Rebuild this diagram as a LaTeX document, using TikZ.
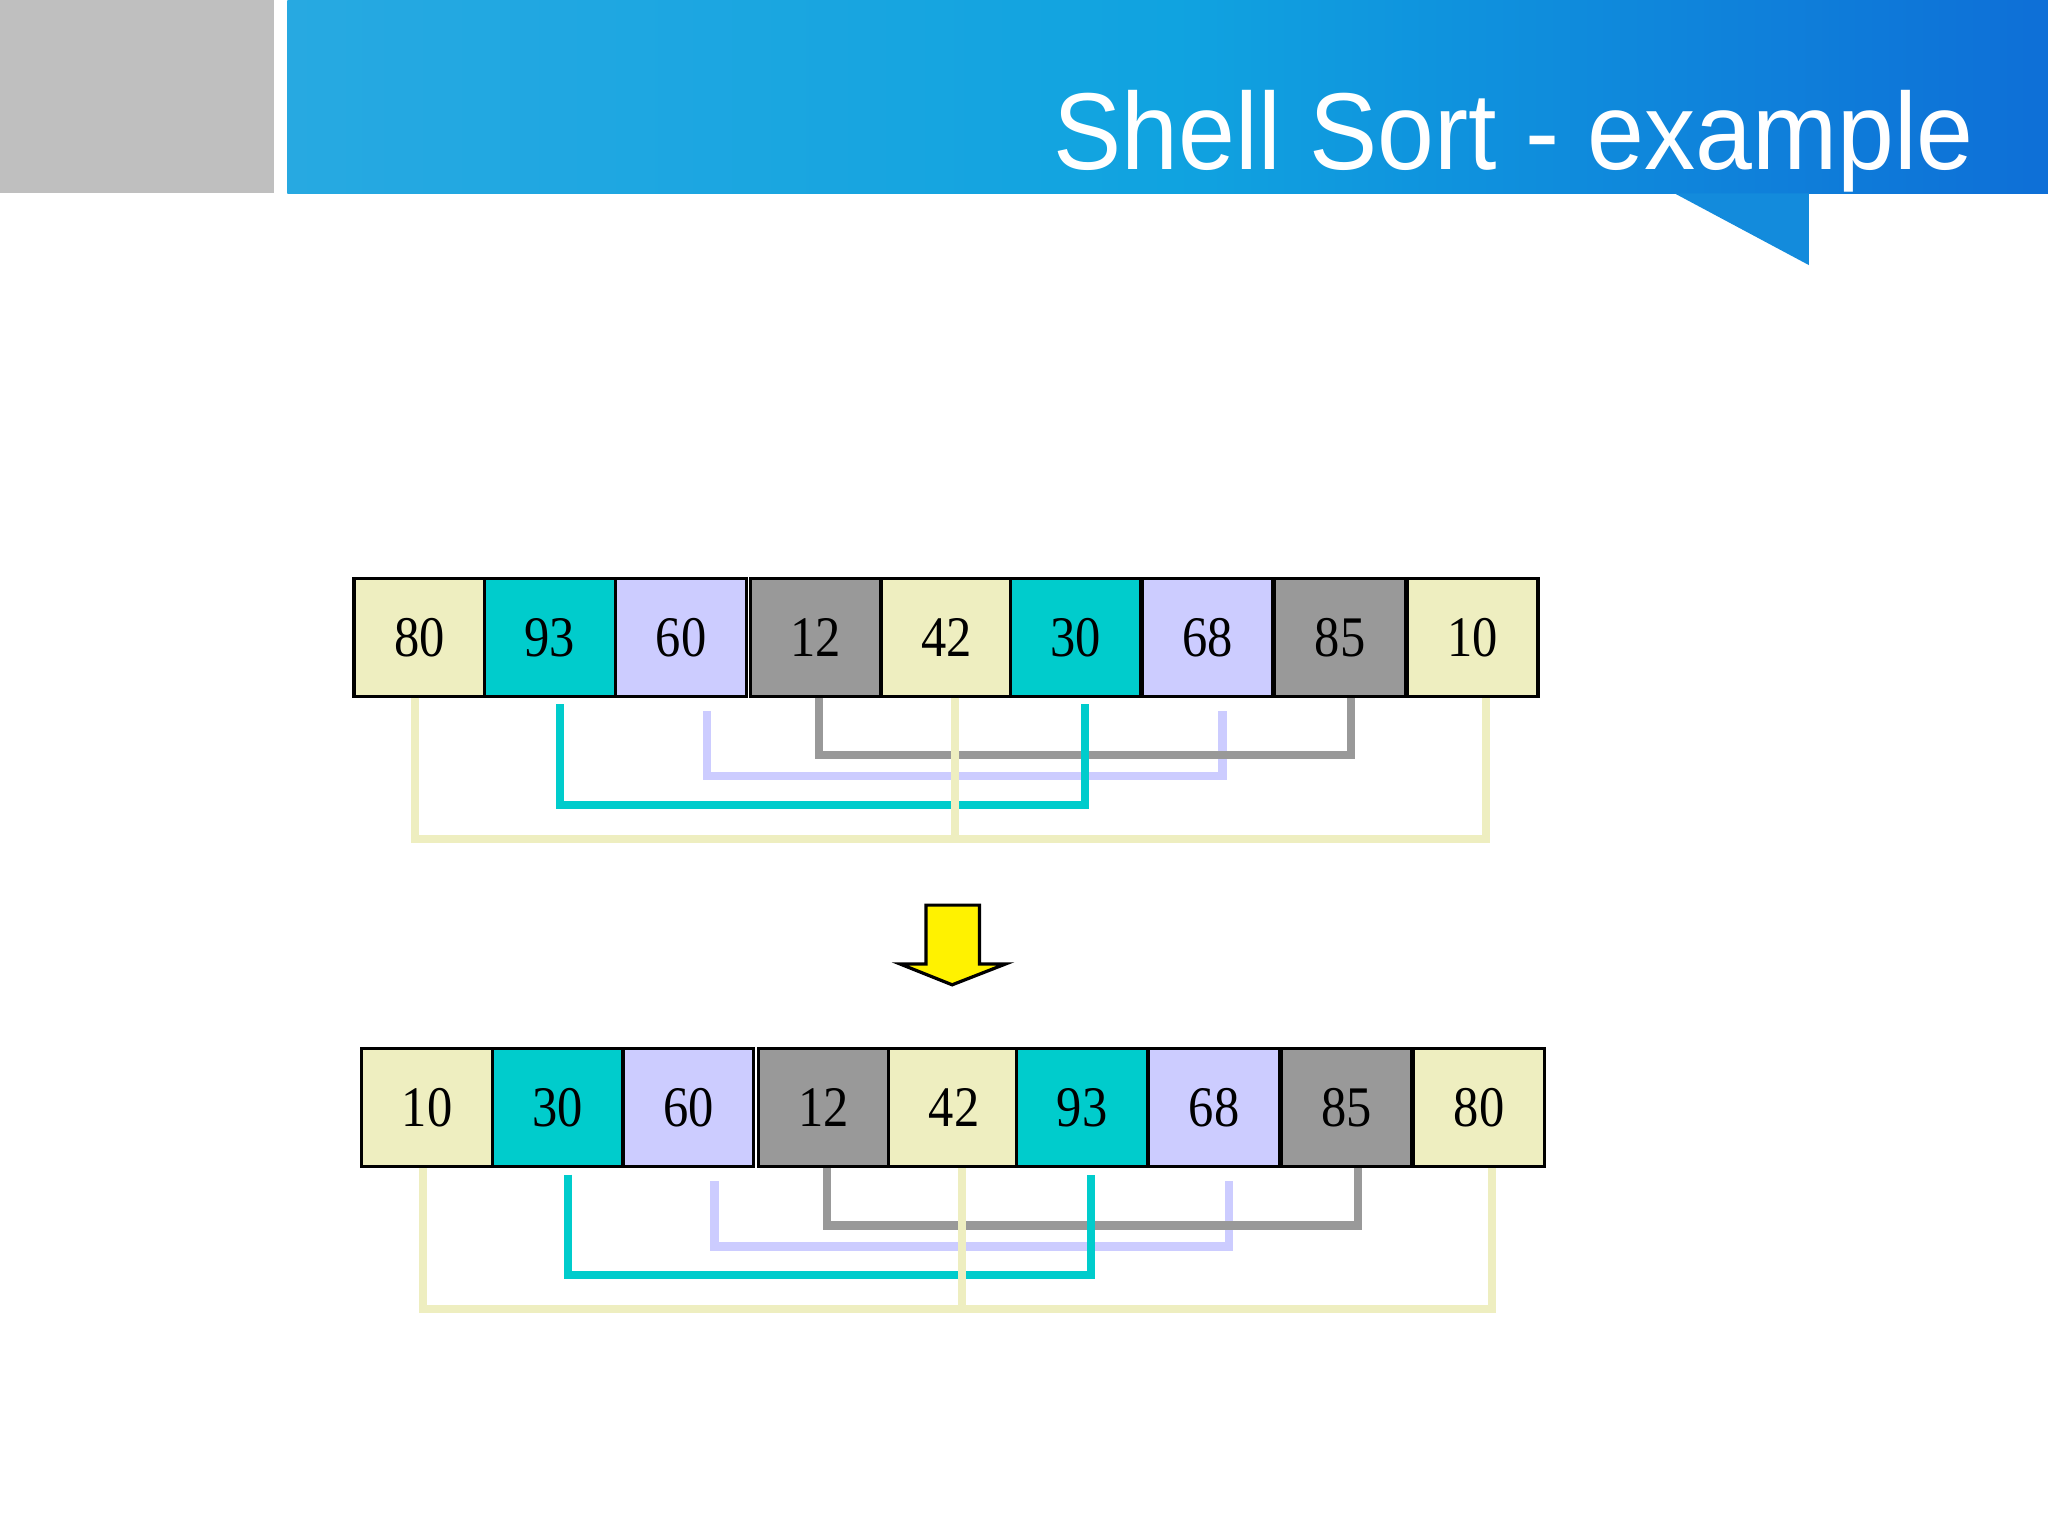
\documentclass[tikz,border=0pt]{standalone}
\usepackage{fontspec}
\setmainfont{Liberation Serif}
\newfontfamily\titlefont{Liberation Sans}
\usetikzlibrary{calc}

\definecolor{cellyel}{HTML}{EEEEC0}
\definecolor{cellcyan}{HTML}{00CCCC}
\definecolor{celllav}{HTML}{CCCCFF}
\definecolor{cellgray}{HTML}{999999}
\definecolor{barleft}{HTML}{27A9E1}
\definecolor{barmid}{HTML}{10A3E0}
\definecolor{barright}{HTML}{0E6FD7}
\definecolor{tipblue}{HTML}{138BDC}

\tikzset{
  cell/.style={draw=black,line width=0.7pt,minimum width=1cm,minimum height=0.9cm,
    inner sep=0pt,font=\fontsize{12.5}{14}\selectfont},
  link/.style={line width=1.8pt},
}
\newcommand{\cellnum}[1]{\raisebox{-0.6pt}{\scalebox{0.88}[1]{#1}}}

\begin{document}
\begin{tikzpicture}[x=0.01cm,y=-0.01cm]
\useasboundingbox (0,0) rectangle (1568,1176);
% header
\fill[gray!50] (0,0) rectangle (210,148);
\shade[left color=barleft,right color=barmid] (220,0) rectangle (900,148);
\shade[left color=barmid,right color=barright] (899.5,0) rectangle (1568,148);
\fill[tipblue] (1282,148) -- (1385,148) -- (1385,203) -- cycle;
\node[anchor=base east,text=white,inner sep=0pt,font=\titlefont\fontsize{23.8}{28}\selectfont] (title) at (1512,130) {\scalebox{0.935}[1]{Shell Sort - example}};
% rows before and after the 4-sort
\foreach \v/\c/\x [count=\i] in {80/cellyel/321,93/cellcyan/421,60/celllav/521.5,12/cellgray/624.5,42/cellyel/725,30/cellcyan/823.5,68/celllav/924.5,85/cellgray/1026,10/cellyel/1127.5}
  \node[cell,fill=\c] (t\i) at (\x,488) {\cellnum{\v}};
\foreach \v/\c/\x [count=\i] in {10/cellyel/327,30/cellcyan/427,60/celllav/527,12/cellgray/630.5,42/cellyel/730.5,93/cellcyan/828.5,68/celllav/929.5,85/cellgray/1031,80/cellyel/1132.5}
  \node[cell,fill=\c] (b\i) at (\x,848) {\cellnum{\v}};
% links between elements h=4 apart
\foreach \r in {t,b} {
  \draw[link,celllav] ($(\r3.south)+(20,10)$) -- ($(\r3.south)+(20,60)$) -- ($(\r7.south)+(11.5,60)$) -- ($(\r7.south)+(11.5,10)$);
  \draw[link,cellgray] ($(\r4.south)+(2.5,0)$) -- ($(\r4.south)+(2.5,44)$) -- ($(\r8.south)+(8.5,44)$) -- ($(\r8.south)+(8.5,0)$);
  \draw[link,cellcyan] ($(\r2.south)+(8,5)$) -- ($(\r2.south)+(8,82)$) -- ($(\r6.south)+(7,82)$) -- ($(\r6.south)+(7,5)$);
  \draw[link,cellyel] ($(\r1.south)+(-3,0)$) -- ($(\r1.south)+(-3,108)$) -- ($(\r9.south)+(10,108)$) -- ($(\r9.south)+(10,0)$);
  \draw[link,cellyel] ($(\r5.south)+(6,0)$) -- ($(\r5.south)+(6,108)$);
}
% step arrow
\draw[fill=yellow,line width=0.7pt] (709,693) -- (750,693) -- (750,738) -- (770,738) -- (729,754) -- (689,738) -- (709,738) -- cycle;
\end{tikzpicture}
\end{document}
